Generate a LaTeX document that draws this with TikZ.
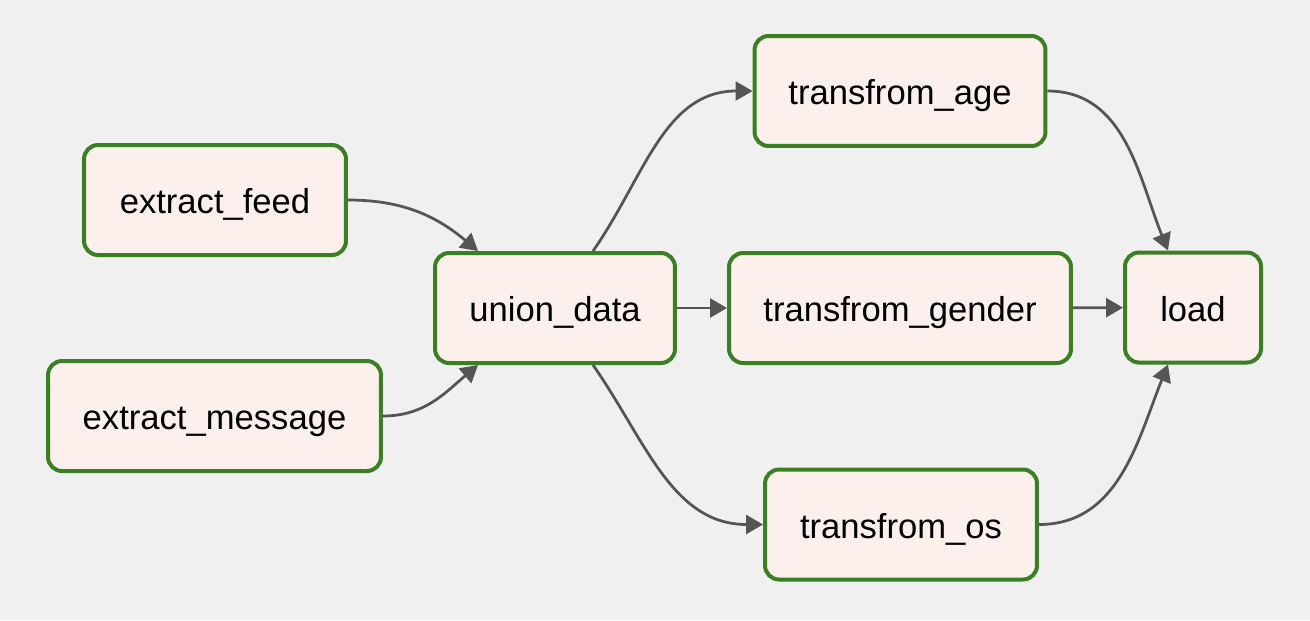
\documentclass[tikz,border=0pt]{standalone}
\usepackage{fontspec}
\setmainfont{Liberation Sans}
\usetikzlibrary{arrows.meta}
\definecolor{dagbg}{HTML}{F0F0F0}
\definecolor{taskline}{HTML}{3B7F24}
\definecolor{taskfill}{HTML}{FBF0EC}
\definecolor{edgegray}{HTML}{555555}
\begin{document}
\begin{tikzpicture}[x=0.02cm, y=0.02cm,
  task/.style={rectangle, rounded corners=0.28cm, draw=taskline, fill=taskfill, line width=0.08cm, minimum height=2.2cm, inner sep=0pt, text height=15.8pt, text depth=0pt, font=\fontsize{19.7}{23}\selectfont},
  flow/.style={draw=edgegray, line width=0.055cm, -{Triangle[length=0.34cm, width=0.38cm]}}]
\fill[dagbg] (0,0) rectangle (1310,-620);
\useasboundingbox (0,0) rectangle (1310,-620);
\node[task, minimum width=5.24cm] (tid0) at (215,-200){extract\_feed};
\node[task, minimum width=6.66cm] (tid1) at (214.5,-416){extract\_message};
\node[task, minimum width=4.8cm] (tid2) at (555,-308){union\_data};
\draw[flow] (tid0.east) to[out=0, in=140] ([xshift=-1.54cm]tid2.north);
\draw[flow] (tid1.east) to[out=0, in=-140] ([xshift=-1.54cm]tid2.south);
\node[task, minimum width=5.82cm] (tid3) at (900,-91){transfrom\_age};
\node[task, minimum width=6.84cm] (tid4) at (900,-308){transfrom\_gender};
\node[task, minimum width=5.44cm] (tid5) at (901,-524.5){transfrom\_os};
\draw[flow] ([xshift=0.76cm]tid2.north) to[out=55, in=180] (tid3.west);
\draw[flow] (tid2) -- (tid4);
\draw[flow] ([xshift=0.76cm]tid2.south) to[out=-55, in=180] (tid5.west);
\node[task, minimum width=2.72cm] (tid6) at (1193,-307.5){load};
\draw[flow] (tid3.east) to[out=0, in=112] ([xshift=-0.5cm]tid6.north);
\draw[flow] (tid4) -- (tid6);
\draw[flow] (tid5.east) to[out=0, in=-112] ([xshift=-0.5cm]tid6.south);
\end{tikzpicture}
\end{document}
